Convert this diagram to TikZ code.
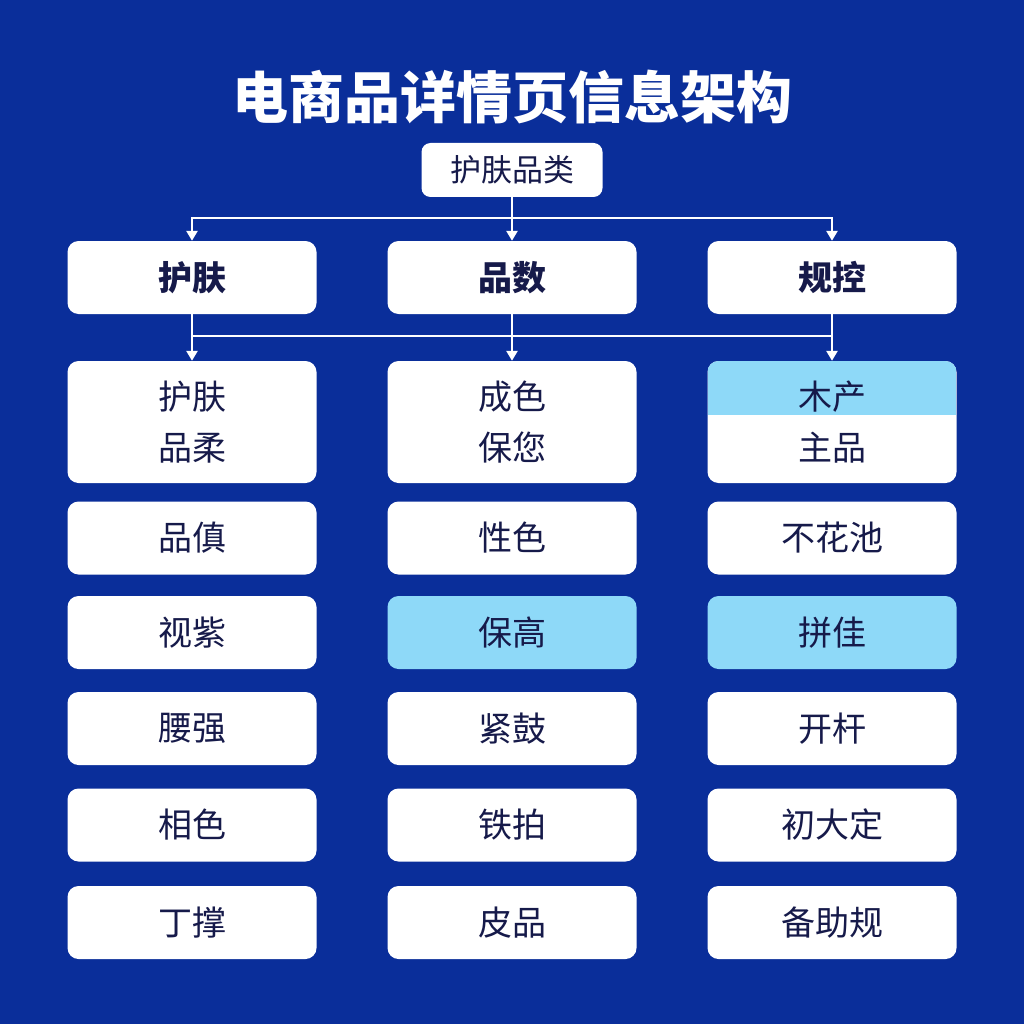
\documentclass[tikz,border=0pt]{standalone}
\usepackage{fontspec}
\setmainfont{Noto Sans CJK SC}
\usetikzlibrary{arrows.meta}
\definecolor{bgblue}{RGB}{10,46,154}
\definecolor{navy}{RGB}{22,26,74}
\definecolor{skyblue}{RGB}{142,217,248}

\begin{document}
\begin{tikzpicture}[x=1pt,y=-1pt]
  \tikzset{card/.style = {shape=rectangle,fill=white,rounded corners=11pt,minimum width=249pt,minimum height=73pt,inner sep=0pt,text=navy,font=\fontsize{34}{51}\selectfont}}
  \tikzset{tall/.style = {card,minimum height=122pt,align=center}}
  \tikzset{head/.style = {card,font=\fontsize{34}{40}\selectfont\bfseries}}
  \tikzset{hl/.style = {fill=skyblue}}
  \tikzset{link/.style = {draw=white,line width=2.6pt,-{Triangle[width=11pt,length=10pt]}}}
  \tikzset{bar/.style = {draw=white,line width=2.6pt}}

  \fill[bgblue] (0,0) rectangle (1024,1024);
  \node[text=white,font=\fontsize{56}{60}\selectfont\bfseries] (title) at (512,97) {电商品详情页信息架构};

	\node[card,minimum width=181pt,minimum height=54pt,rounded corners=9pt,font=\fontsize{31}{36}\selectfont] (root) at (512,170) {护肤品类};

	\node[head] (skin) at (192,277.5) {护肤};
	\node[head] (count) at (512,277.5) {品数};
	\node[head] (ctrl) at (832,277.5) {规控};

	% first column
	\node[tall] (a2) at (192,422) {护肤\\品柔};
	\node[card] (a3) at (192,538) {品傎};
	\node[card] (a4) at (192,632.5) {视紫};
	\node[card] (a5) at (192,728.5) {腰强};
	\node[card] (a6) at (192,825) {相色};
	\node[card] (a7) at (192,922.5) {丁撑};

	% second column
	\node[tall] (b2) at (512,422) {成色\\保您};
	\node[card] (b3) at (512,538) {性色};
	\node[card,hl] (b4) at (512,632.5) {保高};
	\node[card] (b5) at (512,728.5) {紧鼓};
	\node[card] (b6) at (512,825) {铁拍};
	\node[card] (b7) at (512,922.5) {皮品};

	% third column
	\node[tall,path picture={\fill[skyblue,sharp corners] (path picture bounding box.north west) rectangle ([yshift=-54pt]path picture bounding box.north east);}] (c2) at (832,422) {木产\\主品};
	\node[card] (c3) at (832,538) {不花池};
	\node[card,hl] (c4) at (832,632.5) {拼佳};
	\node[card] (c5) at (832,728.5) {开杆};
	\node[card] (c6) at (832,825) {初大定};
	\node[card] (c7) at (832,922.5) {备助规};

	\coordinate (bus) at (0,336);
	\foreach \to in {skin,count,ctrl}
	\draw[link] (root.south) -- ++(0,21) -| (\to.north);
	\draw[bar] (skin.south |- bus) -- (ctrl.south |- bus);
	\foreach \from/\to in {skin/a2,count/b2,ctrl/c2}
	\draw[link] (\from.south) -- (\to.north);

\end{tikzpicture}
\end{document}
